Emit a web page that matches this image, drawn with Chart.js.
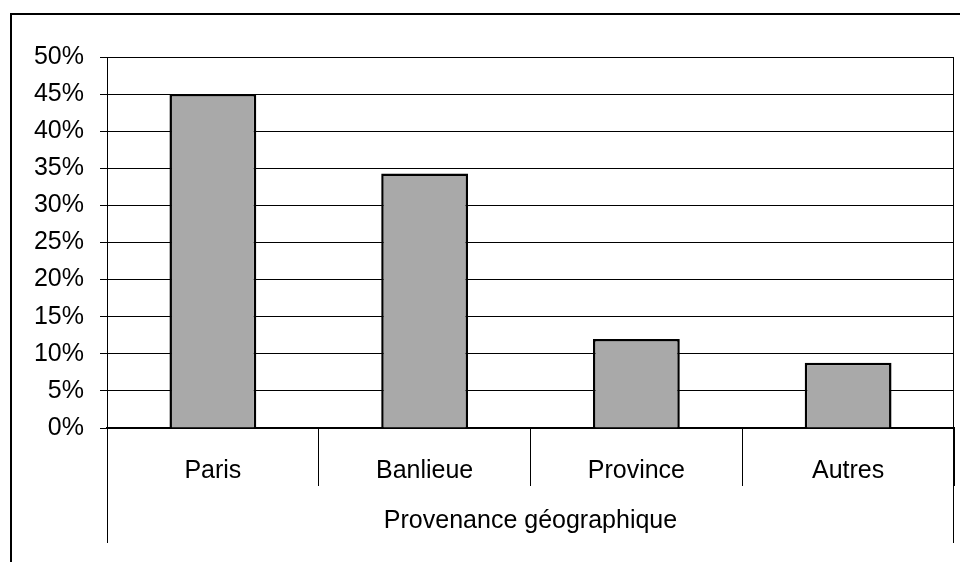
<!DOCTYPE html>
<html>
<head>
<meta charset="utf-8">
<script src="https://cdn.jsdelivr.net/npm/chart.js@4/dist/chart.umd.min.js"></script>
<style>
  html, body { margin: 0; padding: 0; background: #fff; }
  #wrap { width: 960px; height: 562px; position: relative; }
</style>
</head>
<body>
<div id="wrap"><canvas id="c" width="960" height="562"></canvas></div>
<script>
const categories = ['Paris', 'Banlieue', 'Province', 'Autres'];
const values = [45, 34.3, 12, 8.8];
const axisTitle = 'Provenance géographique';
const yMin = 0, yMax = 50, yStep = 5;

const frame = {
  id: 'frame',
  afterDraw(chart) {
    const ctx = chart.ctx;
    const a = chart.chartArea;
    ctx.save();
    ctx.strokeStyle = '#000';
    ctx.lineWidth = 1;
    ctx.strokeRect(a.left + 0.5, a.top + 0.5, a.right - a.left - 1, a.bottom - a.top);
    ctx.beginPath();
    ctx.moveTo(a.left + 0.5, a.bottom); ctx.lineTo(a.left + 0.5, a.bottom + 115);
    ctx.moveTo(a.right - 0.5, a.bottom); ctx.lineTo(a.right - 0.5, a.bottom + 115);
    ctx.stroke();
    ctx.lineWidth = 2;
    ctx.beginPath();
    ctx.moveTo(11, 562); ctx.lineTo(11, 14); ctx.lineTo(960, 14);
    ctx.stroke();
    ctx.restore();
  }
};

const font = { family: "'Liberation Sans', Arial, sans-serif", size: 25 };

new Chart(document.getElementById('c'), {
  type: 'bar',
  data: {
    labels: categories,
    datasets: [{
      data: values,
      backgroundColor: '#a9a9a9',
      borderColor: '#000',
      borderWidth: 2.5,
      categoryPercentage: 1,
      barPercentage: 0.41
    }]
  },
  options: {
    responsive: false,
    animation: false,
    devicePixelRatio: 1,
    layout: { padding: { top: 57, right: 6, bottom: 0, left: 0 } },
    plugins: { legend: { display: false }, tooltip: { enabled: false } },
    scales: {
      x: {
        offset: true,
        grid: { offset: true, drawOnChartArea: false, drawTicks: true, tickLength: 58, color: '#000', lineWidth: 1 },
        border: { display: true, color: '#000', width: 2 },
        ticks: { color: '#000', font: font, padding: -30, maxRotation: 0 },
        title: { display: true, text: axisTitle, color: '#000', font: font, padding: { top: 0, bottom: 26 } },
        afterFit(scale) { scale.height = 134; }
      },
      y: {
        min: yMin, max: yMax,
        ticks: { stepSize: yStep, color: '#000', font: font, padding: 16, callback: v => v + '%' },
        grid: { color: '#000', lineWidth: 1, tickLength: 7 },
        border: { display: true, color: '#000', width: 1 },
        afterFit(scale) { scale.width = 107; }
      }
    }
  },
  plugins: [frame]
});
</script>
</body>
</html>
